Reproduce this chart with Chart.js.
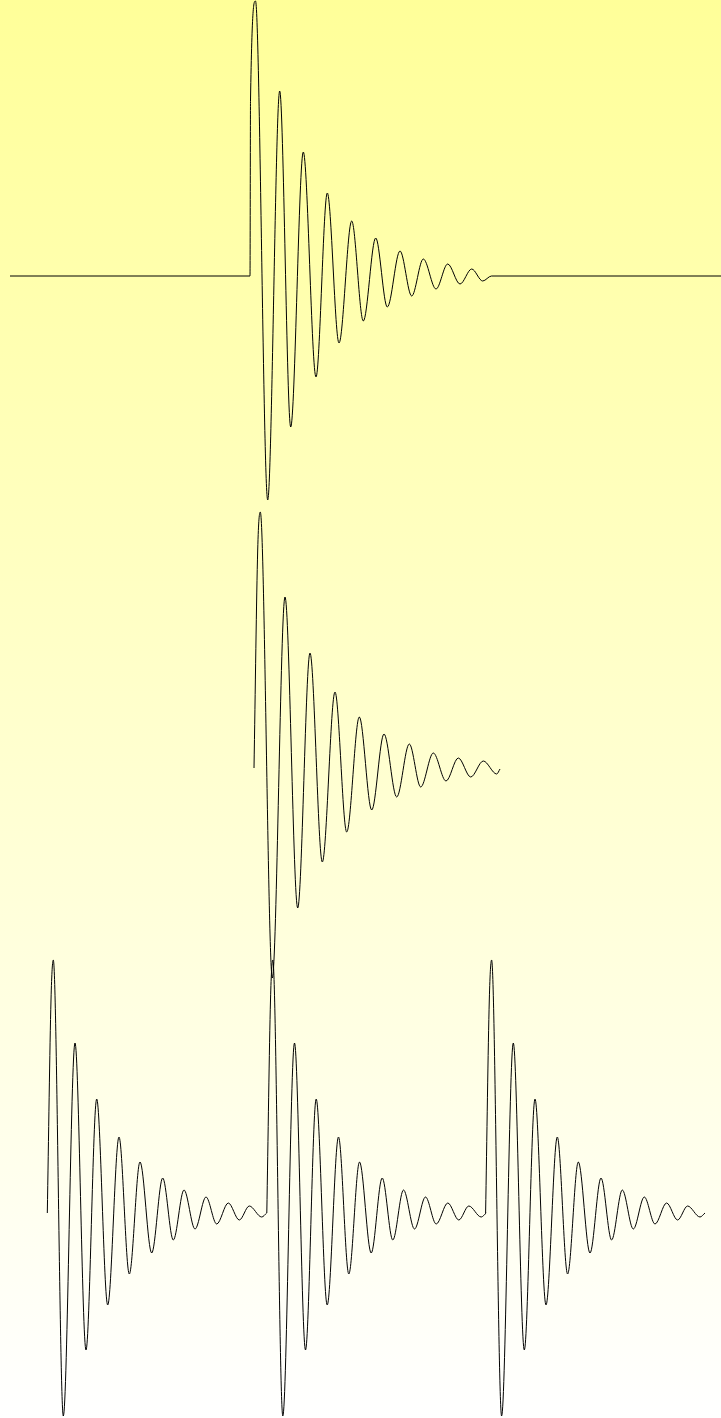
<!DOCTYPE html>
<html>
<head>
<meta charset="utf-8">
<script src="https://cdn.jsdelivr.net/npm/chart.js@4/dist/chart.umd.min.js"></script>
<style>
    html, body { margin: 0; padding: 0; }
    body {
        width: 721px;
        height: 1418px;
        overflow: hidden;
        background: linear-gradient(to bottom, #ffff99, #ffffff);
    }
    canvas { display: block; }
</style>
</head>
<body>
<canvas id="grafico" width="721" height="1418"></canvas>
<script>
// top trace: flat, trigger, damped ringing, flat again
const topTimes = [10, 250, 250.5, 255.5, 267.7, 279.7, 290.7, 303.3, 316, 327.3, 339, 351.7, 363.3,
    375.7, 387.3, 400, 411.7, 423.3, 436, 447.7, 460, 471.7, 482.7, 491.5, 721];
const topValues = [0, 0, 176, 275, -224, 185, -151, 124, -101, 83, -67, 55, -45,
    38, -31, 25, -20, 17, -13, 12, -8, 7, -5, 0, 0];

// middle trace: single ringing burst
const midTimes = [254, 257.7, 260.3, 272.3, 285, 297.7, 310, 322.3, 335, 346.7, 359.3, 371.7,
    384, 396.7, 409.3, 420.7, 433.3, 446, 458.3, 470.7, 483.3, 496.7, 500];
const midValues = [0, 218, 256, -210, 171, -140, 115, -94, 76, -64, 51, -42,
    34, -29, 24, -19, 15, -13, 10, -9, 7, -6, -1];

// bottom trace: the same burst repeated three times
const burstTimes = [0, 3.7, 6, 16, 27.7, 38.7, 49.4, 60.4, 71.7, 82, 92.7, 104.4,
    115.4, 126, 136.7, 147.7, 158.7, 169.4, 181, 192, 202, 214.4, 219.4];
const burstValues = [0, 213, 253, -203, 170, -137, 114, -92, 76, -61, 51, -40,
    35, -27, 23, -16, 16, -11, 10, -7, 7, -4, 0];
const burstStarts = [47.3, 266.8, 485.6];

const alturaTela = 1418;

function paraPontos(tempos, valores, inicio = 0) {
    return tempos.map((t, i) => ({ x: inicio + t, y: valores[i] }));
}

// each trace gets its own hidden axis so its zero line lands on its row
function eixoY(linhaBase) {
    return { display: false, min: linhaBase - alturaTela, max: linhaBase };
}

function linha(dados, eixo) {
    return {
        data: dados,
        yAxisID: eixo,
        borderColor: "#000000",
        borderWidth: 1,
        pointRadius: 0,
        fill: false,
        cubicInterpolationMode: "monotone"
    };
}

const datasets = [
    linha(paraPontos(topTimes, topValues), "yTopo"),
    linha(paraPontos(midTimes, midValues), "yMeio")
];
burstStarts.forEach(inicio => {
    datasets.push(linha(paraPontos(burstTimes, burstValues, inicio), "yBase"));
});

new Chart(document.getElementById("grafico"), {
    type: "line",
    data: { datasets: datasets },
    options: {
        responsive: false,
        animation: false,
        layout: { padding: 0 },
        plugins: {
            legend: { display: false },
            tooltip: { enabled: false }
        },
        scales: {
            x: { type: "linear", display: false, min: 0, max: 721 },
            yTopo: eixoY(276),
            yMeio: eixoY(768),
            yBase: eixoY(1213)
        }
    }
});
</script>
</body>
</html>
